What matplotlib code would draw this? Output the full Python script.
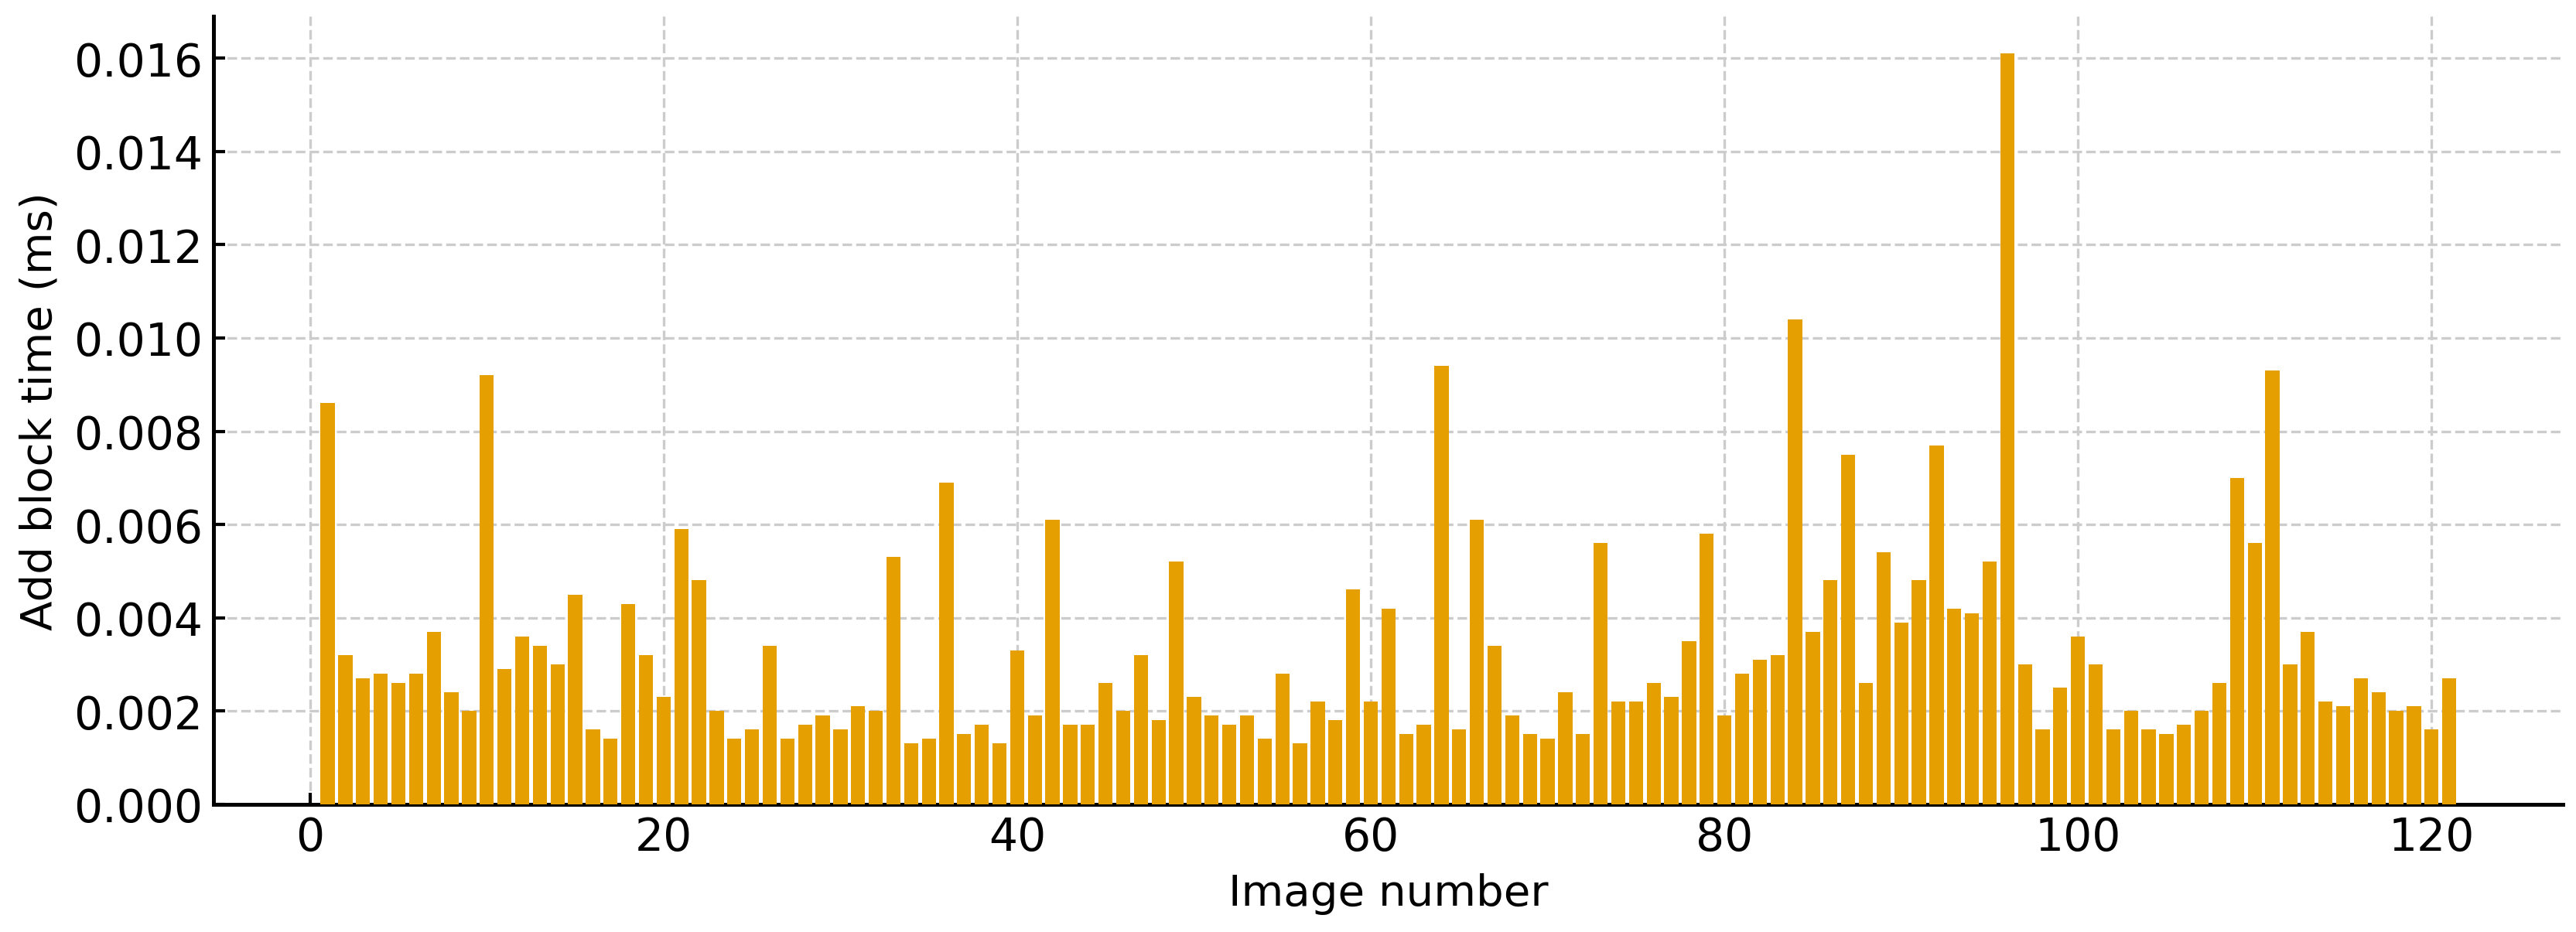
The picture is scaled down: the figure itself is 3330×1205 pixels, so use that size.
import numpy as np
import matplotlib
matplotlib.use("Agg")
import matplotlib.pyplot as plt

# add block time per image (ms), images 1..121
block_time = [
    0.0086, 0.0032, 0.0027, 0.0028, 0.0026, 0.0028, 0.0037, 0.0024, 0.0020, 0.0092,
    0.0029, 0.0036, 0.0034, 0.0030, 0.0045, 0.0016, 0.0014, 0.0043, 0.0032, 0.0023,
    0.0059, 0.0048, 0.0020, 0.0014, 0.0016, 0.0034, 0.0014, 0.0017, 0.0019, 0.0016,
    0.0021, 0.0020, 0.0053, 0.0013, 0.0014, 0.0069, 0.0015, 0.0017, 0.0013, 0.0033,
    0.0019, 0.0061, 0.0017, 0.0017, 0.0026, 0.0020, 0.0032, 0.0018, 0.0052, 0.0023,
    0.0019, 0.0017, 0.0019, 0.0014, 0.0028, 0.0013, 0.0022, 0.0018, 0.0046, 0.0022,
    0.0042, 0.0015, 0.0017, 0.0094, 0.0016, 0.0061, 0.0034, 0.0019, 0.0015, 0.0014,
    0.0024, 0.0015, 0.0056, 0.0022, 0.0022, 0.0026, 0.0023, 0.0035, 0.0058, 0.0019,
    0.0028, 0.0031, 0.0032, 0.0104, 0.0037, 0.0048, 0.0075, 0.0026, 0.0054, 0.0039,
    0.0048, 0.0077, 0.0042, 0.0041, 0.0052, 0.0161, 0.0030, 0.0016, 0.0025, 0.0036,
    0.0030, 0.0016, 0.0020, 0.0016, 0.0015, 0.0017, 0.0020, 0.0026, 0.0070, 0.0056,
    0.0093, 0.0030, 0.0037, 0.0022, 0.0021, 0.0027, 0.0024, 0.0020, 0.0021, 0.0016,
    0.0027,
]
image_number = np.arange(1, len(block_time) + 1)

plt.rcParams["font.family"] = ["DejaVu Sans"]

fig = plt.figure(figsize=(11.1, 4.02), dpi=300)
ax = fig.add_axes([0.083, 0.137, 0.912, 0.845])

ax.bar(image_number, block_time, width=0.8, color="#E69F00", zorder=3)

ax.set_xlabel("Image number", fontsize=13.5)
ax.set_ylabel("Add block time (ms)", fontsize=13.5)
ax.set_yticks(np.arange(0, 0.0161, 0.002))
ax.yaxis.set_major_formatter(matplotlib.ticker.FormatStrFormatter("%.3f"))

ax.grid(True, linestyle="--", color="#cccccc", linewidth=0.8, zorder=0)
ax.spines["top"].set_visible(False)
ax.spines["right"].set_visible(False)
ax.spines["left"].set_linewidth(1.2)
ax.spines["bottom"].set_linewidth(1.2)
ax.tick_params(direction="in", length=3.5, width=1.0, labelsize=14)

fig.savefig("out.png", dpi=300)
